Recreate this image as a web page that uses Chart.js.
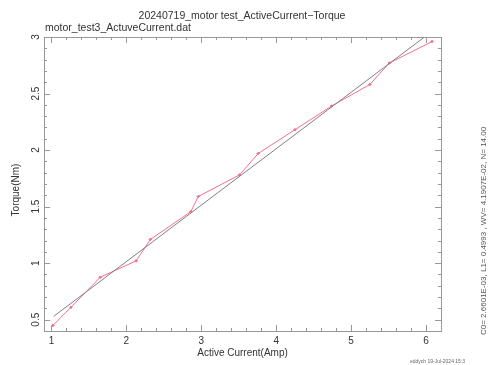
<!DOCTYPE html>
<html>
<head>
<meta charset="utf-8">
<script src="https://cdn.jsdelivr.net/npm/chart.js@4/dist/chart.umd.min.js"></script>
<style>
  html, body { margin: 0; padding: 0; background: #fff; }
  #wrap { width: 488px; height: 365px; }
</style>
</head>
<body>
<div id="wrap"><canvas id="torqueChart" width="488" height="365"></canvas></div>
<script>
// measured points (Active Current vs Torque)
const currentAmp = [1.02, 1.26, 1.65, 2.13, 2.32, 2.86, 2.96, 3.51, 3.76, 4.25, 4.74, 5.25, 5.51, 6.08];
const torqueNm = [0.45, 0.61, 0.875, 1.02, 1.21, 1.455, 1.59, 1.78, 1.97, 2.18, 2.39, 2.58, 2.77, 2.96];

// linear fit line, end points
const fitX = [1.03, 6.08];
const fitY = [0.53, 3.05];

const xTicks = [1, 2, 3, 4, 5, 6];
const yTicks = [0.5, 1, 1.5, 2, 2.5, 3];

const titleText = '20240719_motor test_ActiveCurrent\u2212Torque';
const subTitleText = 'motor_test3_ActuveCurrent.dat';
const xTitle = 'Active Current(Amp)';
const yTitle = 'Torque(Nm)';
const fitInfo = 'C0= 2.6601E-03, L1= 0.4993 , WV= 4.1907E-02, N= 14.00';
const stampText = 'eddych 19-Jul-2024 15:3';

const FONT = 'Liberation Sans, Arial, sans-serif';

// IDL style box: inward ticks on all sides + labels and titles
const frame = {
    id: 'frame',
    afterDraw(chart) {
        const ctx = chart.ctx;
        const a = chart.chartArea;
        const xs = chart.scales.x;
        const ys = chart.scales.y;
        ctx.save();
        ctx.strokeStyle = '#999';
        ctx.lineWidth = 1;
        ctx.strokeRect(a.left + 0.5, a.top + 0.5, a.right - a.left, a.bottom - a.top);

        ctx.beginPath();
        // x minor/major ticks
        for (let i = 0; i <= 26; i++) {
            const v = 1 + i * 0.2 - 0.2;
            if (v < xs.min || v > xs.max) continue;
            const px = Math.round(xs.getPixelForValue(v)) + 0.5;
            const major = Math.abs(v - Math.round(v)) < 1e-6;
            const len = major ? 6 : 3;
            ctx.moveTo(px, a.bottom); ctx.lineTo(px, a.bottom - len);
            ctx.moveTo(px, a.top); ctx.lineTo(px, a.top + len);
        }
        // y minor/major ticks
        for (let i = 0; i <= 26; i++) {
            const v = 0.4 + i * 0.1;
            if (v > ys.max + 1e-6) continue;
            const py = Math.round(ys.getPixelForValue(v)) + 0.5;
            const major = Math.abs(v * 2 - Math.round(v * 2)) < 1e-6;
            const len = major ? 6 : 3;
            ctx.moveTo(a.left, py); ctx.lineTo(a.left + len, py);
            ctx.moveTo(a.right, py); ctx.lineTo(a.right - len, py);
        }
        ctx.stroke();

        ctx.fillStyle = '#333';
        ctx.font = '10px ' + FONT;
        ctx.textAlign = 'center';
        ctx.textBaseline = 'middle';
        xTicks.forEach(v => {
            ctx.fillText(String(v), xs.getPixelForValue(v), a.bottom + 10);
        });
        yTicks.forEach(v => {
            ctx.save();
            ctx.translate(a.left - 8, ys.getPixelForValue(v));
            ctx.rotate(-Math.PI / 2);
            ctx.fillText(String(v), 0, 0);
            ctx.restore();
        });

        ctx.font = '10.5px ' + FONT;
        ctx.fillText(titleText, 242, 16);
        ctx.textAlign = 'left';
        ctx.fillText(subTitleText, 45, 28);
        ctx.textAlign = 'center';
        ctx.font = '10px ' + FONT;
        ctx.fillText(xTitle, (a.left + a.right) / 2, 353);

        ctx.save();
        ctx.translate(16, 190);
        ctx.rotate(-Math.PI / 2);
        ctx.fillText(yTitle, 0, 0);
        ctx.restore();

        ctx.save();
        ctx.fillStyle = '#555';
        ctx.font = '8px ' + FONT;
        ctx.textAlign = 'left';
        ctx.translate(484, 335);
        ctx.rotate(-Math.PI / 2);
        ctx.fillText(fitInfo, 0, 0);
        ctx.restore();

        ctx.fillStyle = '#666';
        ctx.font = '5px ' + FONT;
        ctx.textAlign = 'left';
        ctx.fillText(stampText, 410, 362);
        ctx.restore();
    }
};

const ctx = document.getElementById('torqueChart').getContext('2d');
new Chart(ctx, {
    type: 'scatter',
    data: {
        datasets: [
            {
                label: 'fit',
                data: fitX.map((x, i) => ({ x: x, y: fitY[i] })),
                showLine: true,
                borderColor: '#808080',
                borderWidth: 1,
                pointRadius: 0
            },
            {
                label: 'data',
                data: currentAmp.map((x, i) => ({ x: x, y: torqueNm[i] })),
                showLine: true,
                borderColor: '#f3708e',
                backgroundColor: '#f3708e',
                borderWidth: 1,
                pointRadius: 1.3,
                pointStyle: 'rectRot'
            }
        ]
    },
    options: {
        responsive: false,
        animation: false,
        layout: { padding: { left: 44, right: 47, top: 37, bottom: 34 } },
        plugins: {
            legend: { display: false },
            tooltip: { enabled: false }
        },
        scales: {
            x: { type: 'linear', min: 0.9, max: 6.2, display: false },
            y: { type: 'linear', min: 0.4, max: 3.0, display: false }
        }
    },
    plugins: [frame]
});
</script>
</body>
</html>
